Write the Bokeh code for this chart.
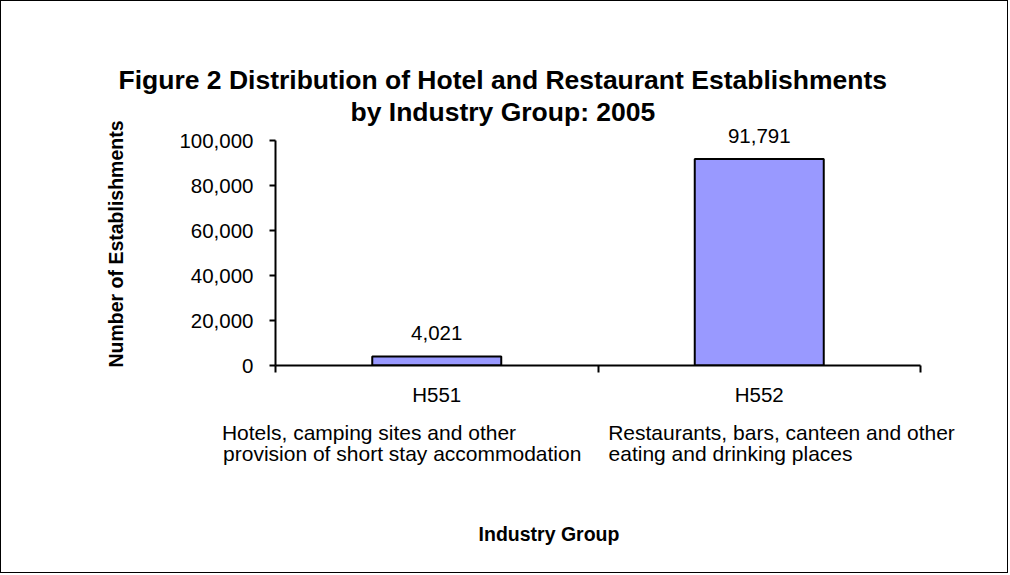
from bokeh.plotting import figure
from bokeh.models import (Range1d, FixedTicker, NumeralTickFormatter, ColumnDataSource,
                          LabelSet, LinearAxis, Title)
from bokeh.core.properties import value
from bokeh.embed import file_html
from bokeh.resources import INLINE

# ---- data ----
codes = ["H551", "H552"]
desc_line1 = ["Hotels, camping sites and other", "Restaurants, bars, canteen and other"]
desc_line2 = ["provision of short stay accommodation", "eating and drinking places"]
establishments = [4021, 91791]
value_labels = ["4,021", "91,791"]
y_ticks = [0, 20000, 40000, 60000, 80000, 100000]
title_line1 = "Figure 2  Distribution of Hotel and Restaurant Establishments"
title_line2 = "by Industry Group:  2005"
y_title = "Number of Establishments"
x_title = "Industry Group"

# ---- layout constants (text placement, in category units) ----
desc1_pos = [0.290, 1.569]
desc2_pos = [0.393, 1.411]
x_title_pos = 0.848

FONT = "Liberation Sans"
W, H = 1008, 573

centers = [i + 0.5 for i in range(len(codes))]
boundaries = [i for i in range(len(codes) + 1)]

p = figure(width=W, height=H, output_backend="svg", toolbar_location=None,
           x_range=Range1d(0, len(codes)), y_range=Range1d(0, 108000),
           min_border_left=274, min_border_right=89, min_border_top=121,
           min_border_bottom=209)
p.styles = {"border": "1px solid black"}
p.outline_line_color = None
p.xgrid.visible = False
p.ygrid.visible = False
p.background_fill_color = "white"
p.border_fill_color = "white"

src = ColumnDataSource(dict(x=centers, top=establishments, lab=value_labels))
p.vbar(x="x", top="top", width=0.4, source=src, fill_color="#9999FF",
       line_color="black", line_width=2)

labels = LabelSet(x="x", y="top", text="lab", source=src, text_align="center",
                  text_baseline="bottom", y_offset=16, text_font=value(FONT),
                  text_font_size="20.5px", text_color="black")
p.add_layout(labels)

# y axis
ya = p.yaxis[0]
ya.ticker = FixedTicker(ticks=y_ticks, minor_ticks=[])
ya.bounds = (0, 100000)
ya.formatter = NumeralTickFormatter(format="0,0")
ya.axis_line_width = 2
ya.major_tick_line_width = 2
ya.major_tick_out = 6
ya.major_tick_in = 0
ya.minor_tick_line_color = None
ya.major_label_text_font = FONT
ya.major_label_text_font_size = "20.5px"
ya.major_label_text_color = "black"
ya.major_label_standoff = 16
ya.axis_label = y_title
ya.axis_label_text_font = FONT
ya.axis_label_text_font_style = "bold"
ya.axis_label_text_font_size = "19.5px"
ya.axis_label_text_color = "black"
ya.axis_label_standoff = 49

# x axis (category codes, boundary ticks)
xa = p.xaxis[0]
xa.ticker = FixedTicker(ticks=centers, minor_ticks=boundaries)
xa.major_label_overrides = {c: code for c, code in zip(centers, codes)}
xa.axis_line_width = 2
xa.major_tick_line_color = None
xa.major_tick_out = 0
xa.major_tick_in = 0
xa.minor_tick_line_width = 2
xa.minor_tick_out = 7
xa.minor_tick_in = 0
xa.major_label_text_font = FONT
xa.major_label_text_font_size = "20.5px"
xa.major_label_text_color = "black"
xa.major_label_standoff = 10


def text_axis(positions, texts, standoff, size="21px", style="normal"):
    ax = LinearAxis(ticker=FixedTicker(ticks=positions, minor_ticks=[]),
                    major_label_overrides={pp: t for pp, t in zip(positions, texts)},
                    axis_line_color=None, major_tick_line_color=None,
                    minor_tick_line_color=None, major_tick_out=0, major_tick_in=0,
                    major_label_standoff=standoff,
                    major_label_text_font=FONT, major_label_text_font_size=size,
                    major_label_text_font_style=style,
                    major_label_text_color="black")
    p.add_layout(ax, "below")
    return ax


text_axis(desc1_pos, desc_line1, 12)
text_axis(desc2_pos, desc_line2, -5)
# x-axis title
text_axis([x_title_pos], [x_title], 55, size="19.5px", style="bold")

# chart title (nearest line first)
p.add_layout(Title(text=title_line2, align="left", offset=75, standoff=-8,
                   text_font=FONT, text_font_style="bold", text_font_size="26.5px",
                   text_color="black"), "above")
p.add_layout(Title(text=title_line1, align="left", offset=-157, standoff=8,
                   text_font=FONT, text_font_style="bold", text_font_size="26.5px",
                   text_color="black"), "above")

open("out.html", "w").write(file_html(p, INLINE))
